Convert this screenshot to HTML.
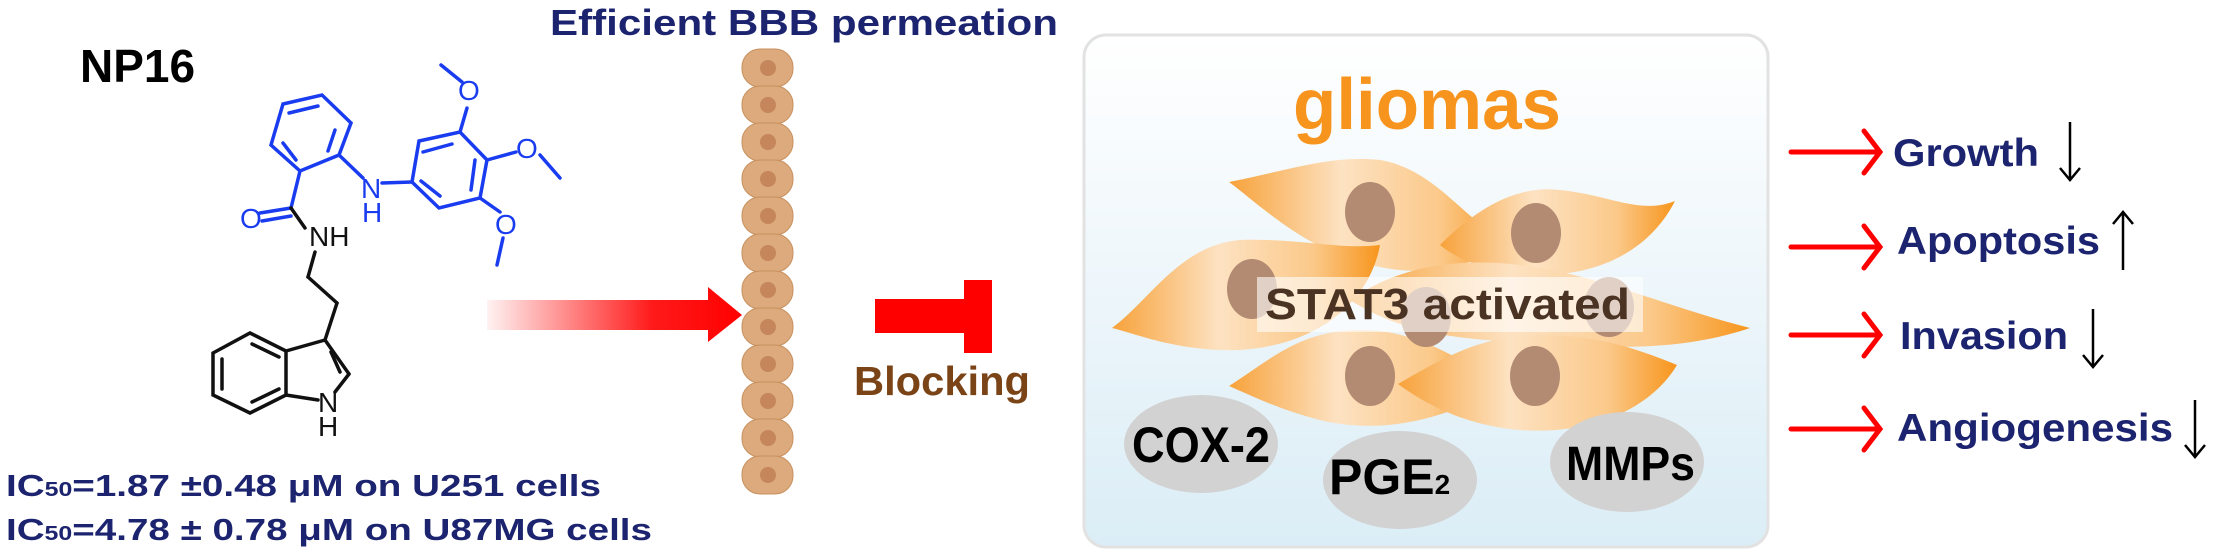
<!DOCTYPE html>
<html><head><meta charset="utf-8"><style>
html,body{margin:0;padding:0;background:#fff;width:2213px;height:553px;overflow:hidden}
svg{display:block;font-family:"Liberation Sans",Arial,sans-serif}
</style></head><body>
<svg width="2213" height="553" viewBox="0 0 2213 553">
<defs>
<linearGradient id="arrowGrad" x1="0" x2="1" y1="0" y2="0">
<stop offset="0" stop-color="#ff0000" stop-opacity="0.05"/><stop offset="0.65" stop-color="#ff0000" stop-opacity="0.9"/><stop offset="1" stop-color="#ff0000"/></linearGradient>
<linearGradient id="boxGrad" x1="0" x2="0" y1="0" y2="1">
<stop offset="0" stop-color="#ffffff"/><stop offset="1" stop-color="#dbedf6"/></linearGradient>
<linearGradient id="cellGrad" x1="0" x2="1" y1="0" y2="0">
<stop offset="0" stop-color="#f7a23a"/><stop offset="0.4" stop-color="#fde2c2"/><stop offset="0.75" stop-color="#fbc98a"/><stop offset="1" stop-color="#f7951c"/></linearGradient>
</defs>

<!-- Title NP16 -->
<text x="80" y="82" font-size="46" font-weight="bold" fill="#000">NP16</text>

<!-- Molecule -->
<g stroke-width="3.5" stroke-linecap="round" fill="none">
<g stroke="#1a3cf0">
<polygon points="283,104 322,95 351,123 339,155 300,171 271,145"/>
<line x1="289" y1="113" x2="318" y2="106"/><line x1="335" y1="130" x2="328" y2="151"/><line x1="283" y1="143" x2="296" y2="160"/>
<line x1="339" y1="155" x2="363" y2="178"/><line x1="382" y1="183" x2="412" y2="182"/>
<polygon points="419,141 460,132 487,160 480,198 439,208 412,182"/>
<line x1="423" y1="152" x2="452" y2="144"/><line x1="475" y1="160" x2="471" y2="190"/><line x1="421" y1="181" x2="440" y2="196"/>
<line x1="460" y1="132" x2="467" y2="108"/><line x1="462" y1="82" x2="441" y2="65"/>
<line x1="487" y1="160" x2="516" y2="152"/><line x1="540" y1="155" x2="560" y2="178"/>
<line x1="480" y1="198" x2="500" y2="212"/><line x1="503" y1="238" x2="497" y2="265"/>
<line x1="300" y1="171" x2="291" y2="208"/><line x1="291" y1="208" x2="260" y2="213"/><line x1="291" y1="216" x2="262" y2="221"/>
</g>
<g fill="#1a3cf0" font-size="28" stroke="none">
<text x="361" y="198">N</text><text x="362" y="222">H</text>
<text x="458" y="100">O</text><text x="516" y="158">O</text><text x="495" y="234">O</text><text x="240" y="228">O</text>
</g>
<g stroke="#111">
<line x1="291" y1="208" x2="305" y2="228"/>
<line x1="315" y1="252" x2="308" y2="277"/><line x1="308" y1="277" x2="337" y2="303"/><line x1="337" y1="303" x2="325" y2="340"/>
<polygon points="250,333 286,351 286,395 250,413 213,395 213,353"/>
<line x1="222" y1="359" x2="222" y2="389"/><line x1="252" y1="344" x2="279" y2="357"/><line x1="252" y1="402" x2="279" y2="389"/>
<line x1="286" y1="351" x2="325" y2="340"/><line x1="325" y1="340" x2="349" y2="374"/><line x1="331" y1="352" x2="340" y2="372"/>
<line x1="349" y1="374" x2="335" y2="392"/><line x1="286" y1="395" x2="318" y2="400"/>
</g>
<g fill="#111" font-size="28" stroke="none">
<text x="309" y="246">NH</text><text x="318" y="412">N</text><text x="318" y="436">H</text>
</g>
</g>

<!-- IC50 text -->
<text x="6" y="496" font-size="31" font-weight="bold" fill="#1c2470" textLength="595" lengthAdjust="spacingAndGlyphs">IC<tspan font-size="20">50</tspan>=1.87 ±0.48 μM on U251 cells</text>
<text x="6" y="540" font-size="31" font-weight="bold" fill="#1c2470" textLength="646" lengthAdjust="spacingAndGlyphs">IC<tspan font-size="20">50</tspan>=4.78 ± 0.78 μM on U87MG cells</text>

<!-- BBB -->
<text x="550" y="35" font-size="36" font-weight="bold" fill="#1c2470" textLength="508" lengthAdjust="spacingAndGlyphs">Efficient BBB permeation</text>
<g>
<g fill="#dcaa7c" stroke="#c8905e" stroke-width="1">
<rect x="742" y="49" width="51" height="38" rx="18"/><rect x="742" y="86" width="51" height="38" rx="18"/><rect x="742" y="123" width="51" height="38" rx="18"/><rect x="742" y="160" width="51" height="38" rx="18"/><rect x="742" y="197" width="51" height="38" rx="18"/><rect x="742" y="234" width="51" height="38" rx="18"/><rect x="742" y="271" width="51" height="38" rx="18"/><rect x="742" y="308" width="51" height="38" rx="18"/><rect x="742" y="345" width="51" height="38" rx="18"/><rect x="742" y="382" width="51" height="38" rx="18"/><rect x="742" y="419" width="51" height="38" rx="18"/><rect x="742" y="456" width="51" height="38" rx="18"/>
</g>
<g fill="#c4865a">
<circle cx="768" cy="68" r="8"/><circle cx="768" cy="105" r="8"/><circle cx="768" cy="142" r="8"/><circle cx="768" cy="179" r="8"/><circle cx="768" cy="216" r="8"/><circle cx="768" cy="253" r="8"/><circle cx="768" cy="290" r="8"/><circle cx="768" cy="327" r="8"/><circle cx="768" cy="364" r="8"/><circle cx="768" cy="401" r="8"/><circle cx="768" cy="438" r="8"/><circle cx="768" cy="475" r="8"/>
</g>
</g>

<!-- gradient arrow -->
<polygon points="487,300 708,300 708,287 742,315 708,342 708,330 487,330" fill="url(#arrowGrad)"/>

<!-- Blocking -->
<polygon points="875,299 964,299 964,280 992,280 992,353 964,353 964,333 875,333" fill="#ff0000"/>
<text x="854" y="395" font-size="41" font-weight="bold" fill="#7a4416" textLength="176" lengthAdjust="spacingAndGlyphs">Blocking</text>

<!-- gliomas box -->
<rect x="1084" y="35" width="684" height="512" rx="22" fill="url(#boxGrad)" stroke="#e2e2e2" stroke-width="3"/>
<text x="1293" y="129" font-size="72" font-weight="bold" fill="#f7941d" textLength="268" lengthAdjust="spacingAndGlyphs">gliomas</text>

<g fill="url(#cellGrad)">
<path d="M1229,182 C1290,170 1330,155 1380,160 C1440,170 1470,230 1510,240 C1470,270 1420,280 1360,262 C1300,245 1260,205 1229,182Z"/>
<path d="M1440,245 C1480,205 1520,185 1560,190 C1610,195 1640,215 1675,201 C1650,250 1600,275 1540,275 C1500,275 1460,262 1440,245Z"/>
<path d="M1112,328 C1150,300 1180,245 1240,240 C1300,238 1340,250 1380,245 C1370,300 1320,345 1240,350 C1180,352 1140,335 1112,328Z"/>
<path d="M1350,300 C1400,265 1460,258 1520,265 C1600,275 1660,305 1750,328 C1700,345 1640,350 1580,345 C1500,340 1420,345 1350,300Z"/>
<path d="M1229,386 C1270,360 1300,330 1360,330 C1420,330 1460,360 1500,385 C1450,420 1380,435 1320,420 C1280,410 1250,395 1229,386Z"/>
<path d="M1398,384 C1440,360 1480,335 1540,335 C1600,335 1640,350 1677,365 C1650,410 1590,435 1520,430 C1460,425 1420,400 1398,384Z"/>
</g>
<g fill="#b38a72">
<ellipse cx="1370" cy="212" rx="25" ry="30"/><ellipse cx="1536" cy="233" rx="25" ry="30"/><ellipse cx="1252" cy="289" rx="25" ry="30"/><ellipse cx="1426" cy="317" rx="25" ry="30"/><ellipse cx="1609" cy="307" rx="25" ry="30"/><ellipse cx="1370" cy="376" rx="25" ry="30"/><ellipse cx="1535" cy="376" rx="25" ry="30"/>
</g>
<rect x="1257" y="277" width="386" height="55" fill="#ffffff" fill-opacity="0.6"/>
<text x="1265" y="319" font-size="44" font-weight="bold" fill="#4a3322" textLength="365" lengthAdjust="spacingAndGlyphs">STAT3 activated</text>

<g>
<ellipse cx="1201" cy="444" rx="77" ry="49" fill="#d2d2d2"/>
<text x="1132" y="462" font-size="50" font-weight="bold" fill="#000" textLength="138" lengthAdjust="spacingAndGlyphs">COX-2</text>
<ellipse cx="1400" cy="480" rx="77" ry="49" fill="#d2d2d2"/>
<text x="1329" y="494" font-size="50" font-weight="bold" fill="#000">PGE<tspan font-size="28">2</tspan></text>
<ellipse cx="1627" cy="462" rx="77" ry="50" fill="#d2d2d2"/>
<text x="1566" y="480" font-size="48" font-weight="bold" fill="#000" textLength="129" lengthAdjust="spacingAndGlyphs">MMPs</text>
</g>

<!-- outcomes -->
<g>
<g stroke="#ff0000" stroke-width="5" fill="none" stroke-linecap="round">
<line x1="1791" y1="152" x2="1878" y2="152"/><polyline points="1864,131 1880,152 1864,173"/>
<line x1="1791" y1="247" x2="1878" y2="247"/><polyline points="1864,226 1880,247 1864,268"/>
<line x1="1791" y1="335" x2="1878" y2="335"/><polyline points="1864,314 1880,335 1864,356"/>
<line x1="1791" y1="429" x2="1878" y2="429"/><polyline points="1864,408 1880,429 1864,450"/>
</g>
<g font-size="39" font-weight="bold" fill="#1c2470">
<text x="1893" y="166" textLength="146" lengthAdjust="spacingAndGlyphs">Growth</text>
<text x="1897" y="254" textLength="203" lengthAdjust="spacingAndGlyphs">Apoptosis</text>
<text x="1900" y="349" textLength="168" lengthAdjust="spacingAndGlyphs">Invasion</text>
<text x="1897" y="441" textLength="276" lengthAdjust="spacingAndGlyphs">Angiogenesis</text>
</g>
<g stroke="#000" stroke-width="2.5" fill="none">
<line x1="2070" y1="122" x2="2070" y2="180"/><polyline points="2060,168 2070,180 2080,168"/>
<line x1="2123" y1="212" x2="2123" y2="270"/><polyline points="2113,224 2123,212 2133,224"/>
<line x1="2093" y1="309" x2="2093" y2="367"/><polyline points="2083,355 2093,367 2103,355"/>
<line x1="2195" y1="400" x2="2195" y2="457"/><polyline points="2185,445 2195,457 2205,445"/>
</g>
</g>
</svg>
</body></html>
